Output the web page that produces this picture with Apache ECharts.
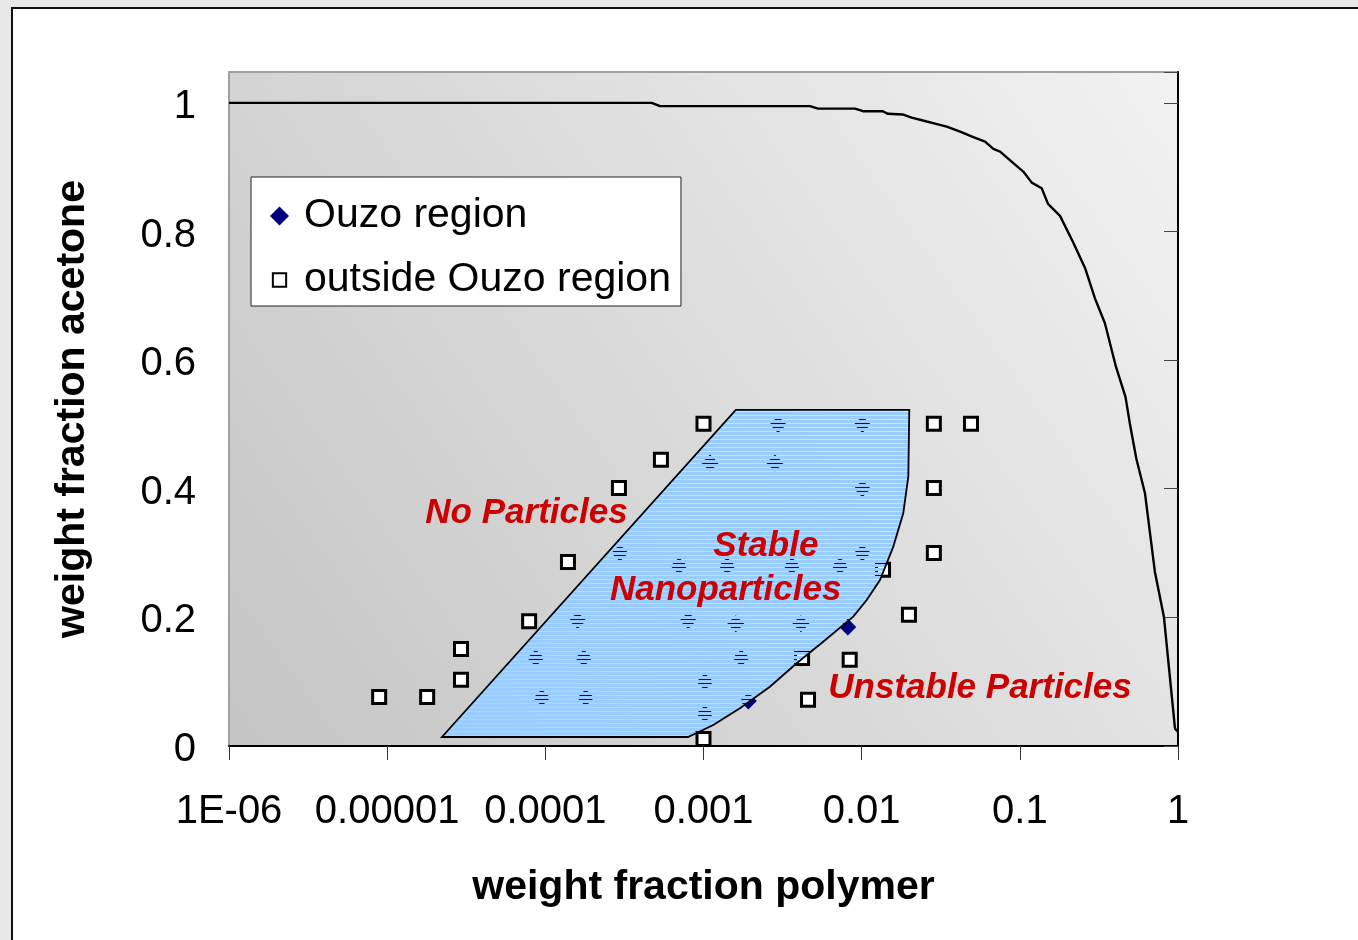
<!DOCTYPE html>
<html>
<head>
<meta charset="utf-8">
<script src="https://cdn.jsdelivr.net/npm/echarts@6/dist/echarts.min.js"></script>
<style>
html,body{margin:0;padding:0;background:#e8e8e8;overflow:hidden;}
#frame{position:absolute;left:11px;top:7px;width:1400px;height:1000px;background:#fff;border-left:2px solid #111;border-top:2px solid #111;}
#c{position:absolute;left:0;top:0;width:1358px;height:940px;}
</style>
</head>
<body>
<div id="frame"></div>
<div id="c"></div>
<script>
// ---- data ----
const xTickLabels = ['1E-06', '0.00001', '0.0001', '0.001', '0.01', '0.1', '1'];
const yTickValues = [0, 0.2, 0.4, 0.6, 0.8, 1];
const yTickLabels = ['0', '0.2', '0.4', '0.6', '0.8', '1'];

// Ouzo region (diamonds)
const ouzoX = [0.00296, 0.0101, 0.0011, 0.00283, 0.0101, 0.000296, 0.0007, 0.00141, 0.00362, 0.0073, 0.0101,
               0.00016, 0.0008, 0.0016, 0.00413, 0.00817, 0.000087, 0.000175, 0.00173, 0.00413,
               0.000095, 0.00018, 0.00102, 0.00192, 0.00102];
const ouzoY = [0.50, 0.50, 0.44, 0.44, 0.40, 0.30, 0.28, 0.28, 0.28, 0.28, 0.30,
               0.195, 0.195, 0.19, 0.19, 0.185, 0.137, 0.137, 0.137, 0.137,
               0.075, 0.075, 0.10, 0.07, 0.05];

// outside Ouzo region (squares)
const outX = [8.9e-6, 1.79e-5, 2.93e-5, 2.93e-5, 7.9e-5, 1.39e-4, 2.92e-4, 5.38e-4, 1.0e-3, 1.0e-3,
              4.2e-3, 4.58e-3, 8.4e-3, 0.01365, 0.0199, 0.0286, 0.0491, 0.0286, 0.0286];
const outY = [0.076, 0.076, 0.151, 0.103, 0.194, 0.286, 0.401, 0.445, 0.501, 0.011,
              0.137, 0.072, 0.134, 0.274, 0.204, 0.501, 0.501, 0.401, 0.300];

// binodal curve
const curveX = [1e-6, 4.70e-4, 5.31e-4, 4.71e-3, 5.30e-3, 9.08e-3, 0.0102, 0.0136, 0.01466, 0.01815, 0.0207,
                0.0258, 0.0283, 0.0345, 0.0419, 0.0508, 0.0603, 0.0680, 0.0750, 0.0910, 0.1052, 0.1189,
                0.1375, 0.1507, 0.1795, 0.2168, 0.2583, 0.2985, 0.3451, 0.4055, 0.4656, 0.4966, 0.5457,
                0.6179, 0.7145, 0.8147, 0.9573, 1.0];
const curveY = [1.0, 1.0, 0.995, 0.995, 0.991, 0.991, 0.987, 0.987, 0.983, 0.982, 0.977,
                0.971, 0.9686, 0.963, 0.9554, 0.9467, 0.9398, 0.9285, 0.9243, 0.9062, 0.8932, 0.876,
                0.8673, 0.843, 0.8243, 0.7838, 0.7434, 0.696, 0.6574, 0.5894, 0.5428, 0.5008, 0.4463,
                0.3935, 0.2706, 0.2006, 0.027, 0.022];

// shaded "stable nanoparticles" region outline
const polyX = [2.22e-5, 7.98e-4, 1.153e-3, 1.70e-3, 2.63e-3, 3.88e-3, 5.71e-3, 8.85e-3, 0.01076, 0.01306,
               0.01585, 0.01832, 0.01972, 0.0200, 1.60e-3];
const polyY = [0.014, 0.014, 0.0327, 0.0586, 0.0922, 0.1286, 0.1622, 0.2011, 0.2271, 0.258,
               0.31, 0.362, 0.4188, 0.5225, 0.5225];

// text annotations [x, y, text]
const annotations = [
  [7.6e-5, 0.362, 'No Particles'],
  [2.48e-3, 0.3106, 'Stable'],
  [1.38e-3, 0.242, 'Nanoparticles'],
  [0.056, 0.0898, 'Unstable Particles']
];

// ---- chart ----
const FONT = '"Liberation Sans", Arial, sans-serif';
const pat = document.createElement('canvas');
pat.width = 4; pat.height = 4;
const pctx = pat.getContext('2d');
pctx.fillStyle = '#99ccff';
pctx.fillRect(0, 0, 4, 3);

const zip = (a, b) => a.map((v, i) => [v, b[i]]);

const chart = echarts.init(document.getElementById('c'), null, {renderer: 'canvas'});
const yFmt = v => {
  const i = yTickValues.findIndex(t => Math.abs(t - v) < 1e-9);
  return i >= 0 ? yTickLabels[i] : '';
};

chart.setOption({
  backgroundColor: 'transparent',
  animation: false,
  textStyle: {fontFamily: FONT},
  grid: {
    left: 229, right: 180, top: 72, bottom: 194,
    show: true,
    backgroundColor: new echarts.graphic.LinearGradient(0, 1, 1, 0, [
      {offset: 0, color: '#c4c4c4'}, {offset: 1, color: '#f2f2f2'}
    ]),
    borderColor: '#a0a0a0', borderWidth: 2
  },
  legend: {
    left: 251, top: 177, orient: 'vertical',
    data: [
      {name: 'Ouzo region'},
      {name: 'outside Ouzo region', icon: 'path://M0,0L0,0M3,3L3,3M0.45,0.45H2.55V2.55H0.45Z'}
    ],
    backgroundColor: '#fff', borderColor: '#222', borderWidth: 1,
    padding: [15, 10, 2, 18],
    itemWidth: 19, itemHeight: 19, itemGap: 16,
    itemStyle: {opacity: 1},
    textStyle: {fontSize: 41, color: '#000', fontFamily: FONT, lineHeight: 48, padding: [0, 0, 0, 10]}
  },
  xAxis: {
    type: 'log', logBase: 10, min: 1e-6, max: 1,
    name: 'weight fraction polymer', nameLocation: 'middle', nameGap: 121,
    nameTextStyle: {fontSize: 41, fontWeight: 'bold', color: '#000', fontFamily: FONT},
    axisLine: {show: true, onZero: false, lineStyle: {color: '#000', width: 2}},
    axisTick: {show: true, length: 14, lineStyle: {color: '#333', width: 1}},
    axisLabel: {
      fontSize: 40, color: '#000', margin: 46, fontFamily: FONT,
      formatter: v => xTickLabels[Math.round(Math.log10(v)) + 6]
    },
    splitLine: {show: false}, minorTick: {show: false}
  },
  yAxis: [{
    type: 'value', min: 0, max: 1.048, interval: 0.2, position: 'left',
    name: 'weight fraction acetone', nameLocation: 'middle', nameGap: 136, nameRotate: 90,
    nameTextStyle: {fontSize: 41, fontWeight: 'bold', color: '#000', fontFamily: FONT},
    axisLine: {show: false}, axisTick: {show: false},
    axisLabel: {fontSize: 40, color: '#000', margin: 33, fontFamily: FONT, formatter: yFmt,
                showMaxLabel: false, verticalAlign: 'top', lineHeight: 8},
    splitLine: {show: false}
  }, {
    type: 'value', min: 0, max: 1.048, interval: 0.2, position: 'right',
    axisLine: {show: true, lineStyle: {color: '#000', width: 2}},
    axisTick: {show: true, inside: true, length: 14, lineStyle: {color: '#444', width: 1}},
    axisLabel: {show: false}, splitLine: {show: false}
  }],
  series: [
    {
      name: 'Ouzo region', type: 'scatter', z: 2,
      symbol: 'diamond', symbolSize: 17,
      itemStyle: {color: '#000080', opacity: 1},
      data: zip(ouzoX, ouzoY)
    },
    {
      name: 'outside Ouzo region', type: 'scatter', z: 3,
      symbol: 'rect', symbolSize: 13,
      itemStyle: {color: '#fff', borderColor: '#000', borderWidth: 3, opacity: 1},
      data: zip(outX, outY)
    },
    {
      name: 'region', type: 'custom', z: 4, silent: true,
      data: [[polyX[0], polyY[0]]],
      renderItem: (params, api) => {
        const pts = polyX.map((x, i) => api.coord([x, polyY[i]]));
        return {
          type: 'polygon',
          shape: {points: pts},
          style: {fill: {image: pat, repeat: 'repeat'}, stroke: '#000', lineWidth: 1.8}
        };
      }
    },
    {
      name: 'binodal', type: 'line', z: 5, silent: true,
      showSymbol: false, symbol: 'none',
      lineStyle: {color: '#000', width: 2.4},
      data: zip(curveX, curveY)
    },
    {
      name: 'labels', type: 'scatter', z: 6, silent: true,
      symbolSize: 0,
      itemStyle: {opacity: 1},
      label: {
        show: true, position: 'inside', formatter: p => p.name,
        fontSize: 35, fontWeight: 'bold', fontStyle: 'italic', color: '#cc0000', fontFamily: FONT
      },
      data: annotations.map(a => ({value: [a[0], a[1]], name: a[2]}))
    }
  ]
});
</script>
</body>
</html>
